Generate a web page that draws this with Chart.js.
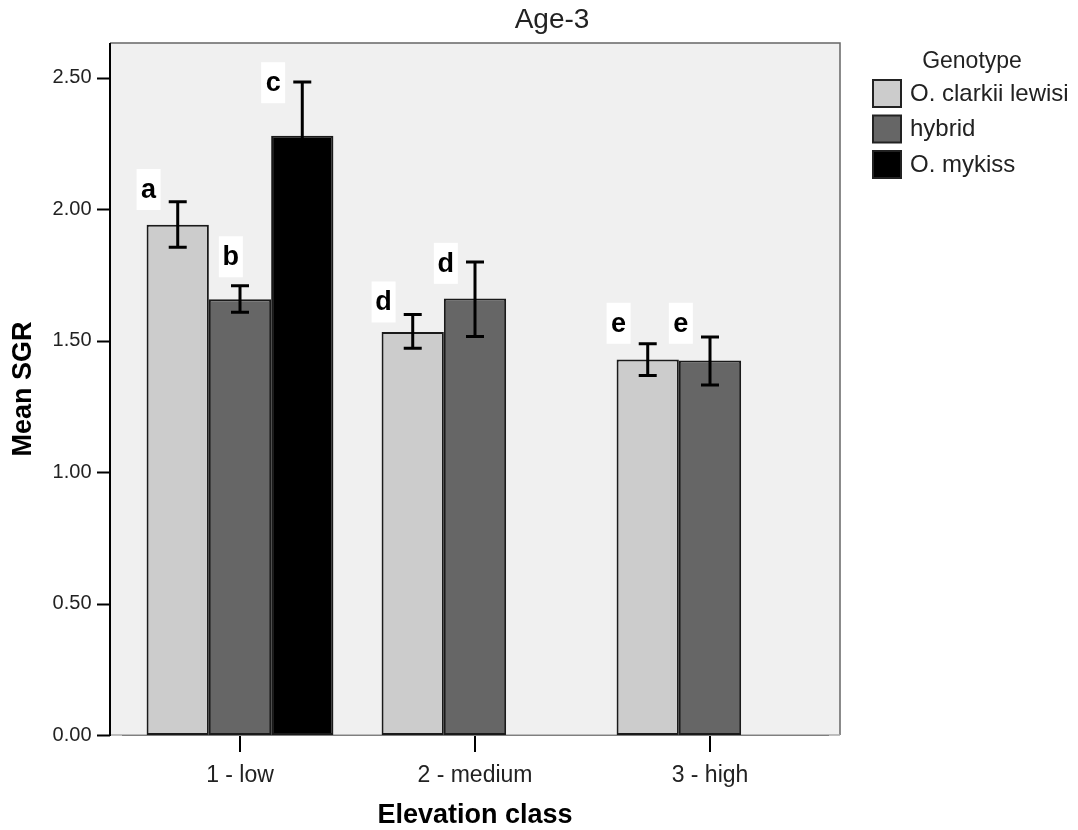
<!DOCTYPE html>
<html lang="en">
<head>
  <meta charset="UTF-8" />
  <title>Age-3</title>
  <script src="https://cdn.jsdelivr.net/npm/chart.js"></script>
  <style>
    * { margin: 0; padding: 0; box-sizing: border-box; }
    body { background: #fff; }
    .wrap { position: relative; width: 1078px; height: 830px; }
  </style>
</head>
<body>
  <div class="wrap">
    <canvas id="sgrChart" width="1078" height="830"></canvas>
  </div>

  <script>
    // data
    const categories = ['1 - low', '2 - medium', '3 - high'];
    const genotypes = ['O. clarkii lewisi', 'hybrid', 'O. mykiss'];

    const clarkiiMean = [1.941, 1.533, 1.428];
    const hybridMean = [1.657, 1.660, 1.424];
    const mykissMean = [2.279, null, null];

    const clarkiiLow = [1.855, 1.471, 1.367];
    const clarkiiHigh = [2.028, 1.599, 1.488];
    const hybridLow = [1.608, 1.516, 1.331];
    const hybridHigh = [1.709, 1.799, 1.514];
    const mykissLow = [2.074, null, null];
    const mykissHigh = [2.484, null, null];

    // significance letters and the SGR level they sit at
    const clarkiiLetters = ['a', 'd', 'e'];
    const hybridLetters = ['b', 'd', 'e'];
    const mykissLetters = ['c', null, null];
    const clarkiiLetterAt = [2.075, 1.647, 1.566];
    const hybridLetterAt = [1.819, 1.794, 1.566];
    const mykissLetterAt = [2.481, null, null];

    const yTicks = [0, 0.5, 1, 1.5, 2, 2.5];
    const yMax = 2.632;

    const errLow = [clarkiiLow, hybridLow, mykissLow];
    const errHigh = [clarkiiHigh, hybridHigh, mykissHigh];
    const letters = [clarkiiLetters, hybridLetters, mykissLetters];
    const letterAt = [clarkiiLetterAt, hybridLetterAt, mykissLetterAt];

    const FONT = "'Liberation Sans', Arial, sans-serif";
    Chart.defaults.font.family = FONT;
    Chart.defaults.color = '#222';

    const framePad = 12.5;

    const frame = {
      id: 'frame',
      beforeDatasetsDraw(chart) {
        const { ctx, chartArea: a, scales: { y } } = chart;
        const l = a.left - framePad, r = a.right + framePad;
        ctx.save();
        ctx.fillStyle = '#f0f0f0';
        ctx.fillRect(l, a.top, r - l, a.bottom - a.top);
        ctx.strokeStyle = '#666';
        ctx.lineWidth = 1.5;
        ctx.beginPath();
        ctx.moveTo(l, a.top);
        ctx.lineTo(r, a.top);
        ctx.lineTo(r, a.bottom);
        ctx.stroke();
        ctx.strokeStyle = '#aaa';
        ctx.beginPath();
        ctx.moveTo(l, a.bottom);
        ctx.lineTo(r, a.bottom);
        ctx.stroke();
        // y axis line and ticks
        ctx.strokeStyle = '#000';
        ctx.lineWidth = 2;
        ctx.beginPath();
        ctx.moveTo(l, a.top);
        ctx.lineTo(l, a.bottom + 1);
        yTicks.forEach(v => {
          const py = Math.round(y.getPixelForValue(v)) + 0.5;
          ctx.moveTo(l - 13, py);
          ctx.lineTo(l, py);
        });
        ctx.stroke();
        ctx.restore();
      },
      afterDatasetsDraw(chart) {
        const { ctx, scales: { y } } = chart;
        ctx.save();
        // error bars
        ctx.strokeStyle = '#000';
        ctx.lineWidth = 3;
        chart.data.datasets.forEach((ds, d) => {
          chart.getDatasetMeta(d).data.forEach((bar, i) => {
            if (errLow[d][i] == null) return;
            const x = bar.x;
            const y1 = y.getPixelForValue(errLow[d][i]);
            const y2 = y.getPixelForValue(errHigh[d][i]);
            ctx.beginPath();
            ctx.moveTo(x, y1); ctx.lineTo(x, y2);
            ctx.moveTo(x - 9, y1); ctx.lineTo(x + 9, y1);
            ctx.moveTo(x - 9, y2); ctx.lineTo(x + 9, y2);
            ctx.stroke();
          });
        });
        // letters
        ctx.font = 'bold 27px ' + FONT;
        ctx.textAlign = 'center';
        ctx.textBaseline = 'middle';
        chart.data.datasets.forEach((ds, d) => {
          chart.getDatasetMeta(d).data.forEach((bar, i) => {
            const t = letters[d][i];
            if (!t) return;
            let cx = bar.x - bar.width / 2 + 2;
            if (d === 1 && i === 0) cx += 20; // keeps "b" clear of the "a" error bar
            const cy = y.getPixelForValue(letterAt[d][i]);
            ctx.fillStyle = '#fff';
            ctx.fillRect(cx - 12, cy - 20.5, 24, 41);
            ctx.fillStyle = '#000';
            ctx.fillText(t, cx, cy + 1);
          });
        });
        ctx.restore();
      },
      afterDraw(chart) {
        const { ctx, chartArea: a } = chart;
        ctx.save();
        // title
        ctx.fillStyle = '#222';
        ctx.font = '28px ' + FONT;
        ctx.textAlign = 'center';
        ctx.textBaseline = 'alphabetic';
        ctx.fillText('Age-3', 552, 28);
        // legend
        const lx = a.right + framePad + 33;
        ctx.font = '23px ' + FONT;
        ctx.fillText('Genotype', lx + 99, 68);
        ctx.font = '24px ' + FONT;
        ctx.textAlign = 'left';
        ctx.textBaseline = 'middle';
        chart.data.datasets.forEach((ds, d) => {
          const top = 80 + d * 35.5;
          ctx.fillStyle = ds.backgroundColor;
          ctx.fillRect(lx, top, 28, 27);
          ctx.strokeStyle = '#222';
          ctx.lineWidth = 2;
          ctx.strokeRect(lx, top, 28, 27);
          ctx.fillStyle = '#222';
          ctx.fillText(ds.label, lx + 37, top + 14);
        });
        ctx.restore();
      }
    };

    const barStyle = { borderColor: '#1a1a1a', borderWidth: 2, borderSkipped: false };

    new Chart(document.getElementById('sgrChart'), {
      type: 'bar',
      data: {
        labels: categories,
        datasets: [
          { label: genotypes[0], data: clarkiiMean, backgroundColor: '#cccccc', ...barStyle },
          { label: genotypes[1], data: hybridMean, backgroundColor: '#666666', ...barStyle },
          { label: genotypes[2], data: mykissMean, backgroundColor: '#000000', ...barStyle }
        ]
      },
      options: {
        responsive: false,
        animation: false,
        layout: { padding: { left: 0, right: 250.5, top: 37.5, bottom: 0 } },
        datasets: { bar: { categoryPercentage: 0.795, barPercentage: 1 } },
        plugins: {
          legend: { display: false },
          tooltip: { enabled: false }
        },
        scales: {
          x: {
            offset: true,
            grid: { display: true, drawOnChartArea: false, offset: false, tickLength: 17, color: '#000', lineWidth: 2 },
            border: { display: true, color: '#000', width: 2 },
            ticks: { color: '#222', font: { size: 23 }, padding: 10 },
            title: { display: true, text: 'Elevation class', color: '#000', font: { size: 27, weight: 'bold', lineHeight: 1 }, padding: { top: 0, bottom: 1 } },
            afterFit(scale) { scale.height = 95; }
          },
          y: {
            min: 0,
            max: yMax,
            grid: { display: false, drawTicks: false },
            border: { display: false },
            ticks: { color: '#222', font: { size: 20 }, padding: 31, callback: v => Number(v).toFixed(2) },
            afterBuildTicks(scale) { scale.ticks = yTicks.map(v => ({ value: v })); },
            title: { display: true, text: 'Mean SGR', color: '#000', font: { size: 27, weight: 'bold', lineHeight: 1 }, padding: { top: 10, bottom: 0 } },
            afterFit(scale) { scale.width = 122.5; }
          }
        }
      },
      plugins: [frame]
    });
  </script>
</body>
</html>
